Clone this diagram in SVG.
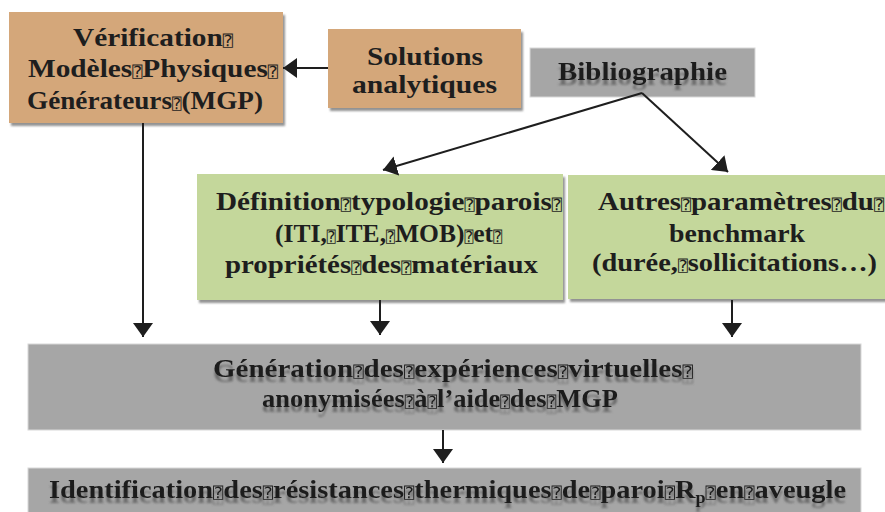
<svg xmlns="http://www.w3.org/2000/svg" width="885" height="512" viewBox="0 0 885 512">
<defs>
<style>
.t{font-family:"Liberation Serif","Noto Serif",serif;font-weight:bold;font-size:26px;fill:#1e1e1e}
.c{font-size:25px}
.q{font-family:"DejaVu Sans Mono","DejaVu Sans",monospace;font-weight:normal;font-size:15px}
.tan{fill:#D4A77A}
.green{fill:#C4D79B}
.gray{fill:#A6A6A6}
.edge{stroke:#d8d8d8;stroke-width:1}
.conn{stroke:#1e1e1e;stroke-width:2;fill:none;marker-end:url(#ah)}
</style>
<marker id="ah" viewBox="0 0 14 20" refX="14" refY="10" markerWidth="14" markerHeight="20" markerUnits="userSpaceOnUse" orient="auto">
<path d="M0,0 L14,10 L0,20 z" fill="#1e1e1e"/>
</marker>
<filter id="bs" x="-5%" y="-10%" width="115%" height="130%">
<feDropShadow dx="2" dy="3" stdDeviation="1" flood-color="#777" flood-opacity="0.8"/>
</filter>
<filter id="ts" x="-5%" y="-20%" width="110%" height="160%">
<feGaussianBlur in="SourceAlpha" stdDeviation="0.9" result="b"/>
<feOffset in="b" dy="5" result="o"/>
<feFlood flood-color="#5a5a5a" flood-opacity="0.75"/>
<feComposite in2="o" operator="in" result="s"/>
<feMerge><feMergeNode in="s"/><feMergeNode in="SourceGraphic"/></feMerge>
</filter>
</defs>
<rect width="885" height="512" fill="#ffffff"/>

<g id="verification">
<rect class="tan" x="9" y="12" width="274" height="111" filter="url(#bs)"/>
<text class="t" x="73" y="46" textLength="160" lengthAdjust="spacingAndGlyphs">Vérification<tspan class="q">⍰</tspan></text>
<text class="t" x="28" y="77" textLength="250" lengthAdjust="spacingAndGlyphs">Modèles<tspan class="q">⍰</tspan>Physiques<tspan class="q">⍰</tspan></text>
<text class="t" x="27" y="109" textLength="236" lengthAdjust="spacingAndGlyphs">Générateurs<tspan class="q">⍰</tspan>(MGP)</text>
</g>

<g id="solutions">
<rect class="tan" x="328" y="29" width="193" height="79" filter="url(#bs)"/>
<text class="t" x="367" y="65" textLength="116" lengthAdjust="spacingAndGlyphs">Solutions</text>
<text class="t" x="352" y="93" textLength="145" lengthAdjust="spacingAndGlyphs">analytiques</text>
</g>

<g id="bibliographie">
<rect class="gray edge" x="530" y="48" width="225" height="49"/>
<text class="t" x="558" y="80" textLength="169" lengthAdjust="spacingAndGlyphs" filter="url(#ts)">Bibliographie</text>
</g>

<g id="definition">
<rect class="green" x="197" y="174" width="366" height="126" filter="url(#bs)"/>
<text class="t" x="216" y="210" textLength="346" lengthAdjust="spacingAndGlyphs">Définition<tspan class="q">⍰</tspan>typologie<tspan class="q">⍰</tspan>parois<tspan class="q">⍰</tspan></text>
<text class="t" x="275" y="242" textLength="227" lengthAdjust="spacingAndGlyphs">(ITI,<tspan class="q">⍰</tspan>ITE,<tspan class="q">⍰</tspan>MOB)<tspan class="q">⍰</tspan>et<tspan class="q">⍰</tspan></text>
<text class="t" x="225" y="273" textLength="313" lengthAdjust="spacingAndGlyphs">propriétés<tspan class="q">⍰</tspan>des<tspan class="q">⍰</tspan>matériaux</text>
</g>

<g id="autres">
<rect class="green" x="568" y="175" width="320" height="124" filter="url(#bs)"/>
<text class="t" x="598" y="210" textLength="286" lengthAdjust="spacingAndGlyphs">Autres<tspan class="q">⍰</tspan>paramètres<tspan class="q">⍰</tspan>du<tspan class="q">⍰</tspan></text>
<text class="t" x="669" y="242" textLength="136" lengthAdjust="spacingAndGlyphs">benchmark</text>
<text class="t" x="592" y="271" textLength="285" lengthAdjust="spacingAndGlyphs">(durée,<tspan class="q">⍰</tspan>sollicitations…)</text>
</g>

<g id="generation">
<rect class="gray edge" x="28" y="344" width="833" height="86"/>
<text class="t c" x="213" y="377" textLength="480" lengthAdjust="spacingAndGlyphs" filter="url(#ts)">Génération<tspan class="q">⍰</tspan>des<tspan class="q">⍰</tspan>expériences<tspan class="q">⍰</tspan>virtuelles<tspan class="q">⍰</tspan></text>
<text class="t c" x="262" y="407" textLength="356" lengthAdjust="spacingAndGlyphs" filter="url(#ts)">anonymisées<tspan class="q">⍰</tspan>à<tspan class="q">⍰</tspan>l’aide<tspan class="q">⍰</tspan>des<tspan class="q">⍰</tspan>MGP</text>
</g>

<g id="identification">
<rect class="gray edge" x="28" y="468" width="833" height="50"/>
<text class="t c" x="49" y="498" textLength="797" lengthAdjust="spacingAndGlyphs" filter="url(#ts)">Identification<tspan class="q">⍰</tspan>des<tspan class="q">⍰</tspan>résistances<tspan class="q">⍰</tspan>thermiques<tspan class="q">⍰</tspan>de<tspan class="q">⍰</tspan>paroi<tspan class="q">⍰</tspan>R<tspan font-size="16px" dy="5">p</tspan><tspan class="q" dy="-5">⍰</tspan>en<tspan class="q">⍰</tspan>aveugle</text>
</g>

<g id="connectors">
<path class="conn" d="M328,68 L283,68"/>
<path class="conn" d="M642,93 L383,170"/>
<path class="conn" d="M642,93 L728,172"/>
<path class="conn" d="M143,123 L143,337"/>
<path class="conn" d="M380,300 L380,335"/>
<path class="conn" d="M732,300 L732,337"/>
<path class="conn" d="M443,430 L443,463"/>
</g>
</svg>
